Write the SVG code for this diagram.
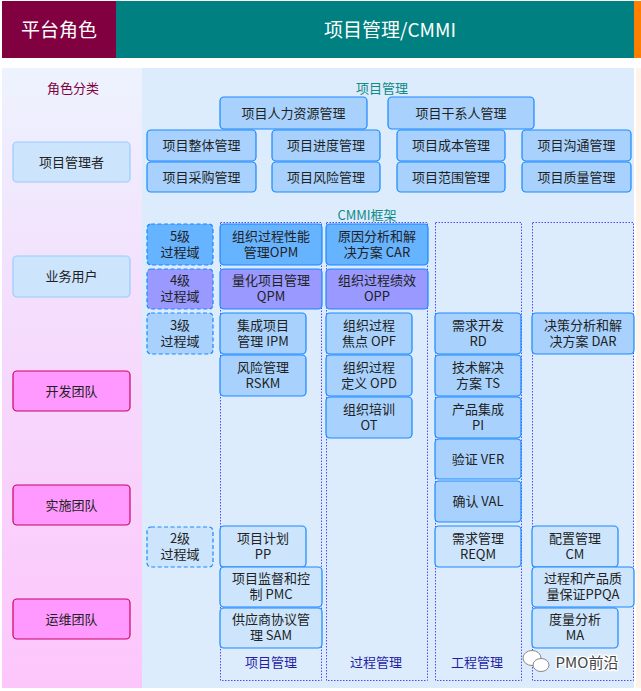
<svg xmlns="http://www.w3.org/2000/svg" width="641" height="691" viewBox="0 0 641 691">
<defs>
<linearGradient id="lg" x1="0" y1="0" x2="0" y2="1">
<stop offset="0" stop-color="#edf3fe"/>
<stop offset="0.5" stop-color="#f6d8fc"/>
<stop offset="1" stop-color="#fdc6fb"/>
</linearGradient>
<style>
text{font-family:"Noto Sans CJK SC","Microsoft YaHei",sans-serif;text-anchor:middle}
.t{font-size:13px;fill:#222}
.hd{font-size:19px;fill:#fff}
.pm{fill:#a8d2fd;stroke:#1a88ff;stroke-width:1.2}
.l5{fill:#66b3ff;stroke:#1a88ff;stroke-width:1.2}
.l4{fill:#9999ff;stroke:#1a88ff;stroke-width:1.2}
.l3{fill:#a8d2fd;stroke:#1a88ff;stroke-width:1.2}
.l2{fill:#cce5fd;stroke:#1a88ff;stroke-width:1.2}
.dash{stroke-dasharray:4 2.5}
.col{fill:none;stroke:#4d4dff;stroke-width:1;stroke-dasharray:1.5 1.5}
.rb{fill:#cce5fd;stroke:#99ccff;stroke-width:1.2}
.rp{fill:#ff99ff;stroke:#cc0066;stroke-width:1.2}
.cl{font-size:13px;fill:#1f1fa6}
.sec{font-size:13px;fill:#0e8a87}
</style>
</defs>
<rect width="641" height="691" fill="#ffffff"/>
<!-- header -->
<g id="header">
<rect x="2" y="1" width="114" height="57" fill="#800040"/>
<rect x="116" y="1" width="518" height="57" fill="#008080"/>
<rect x="634" y="1" width="7" height="57" fill="#ff8000"/>
<text class="hd" x="59" y="37">平台角色</text>
<text class="hd" x="390" y="37">项目管理/CMMI</text>
</g>
<!-- panels -->
<g id="panels">
<rect x="2" y="68" width="140" height="620" fill="url(#lg)"/>
<rect x="142" y="68" width="492" height="620" fill="#dcecfc"/>
<rect x="636" y="68" width="5" height="620" fill="#fff3ea"/>
<text x="73" y="93" style="font-size:13px;fill:#800040">角色分类</text>
<text class="sec" x="382" y="93">项目管理</text>
<text class="sec" x="367" y="220">CMMI框架</text>
</g>
<!-- role nodes -->
<g id="role-pm"><rect class="rb" x="13" y="142" width="117" height="40" rx="4"/><text class="t" x="71.5" y="167">项目管理者</text></g>
<g id="role-biz"><rect class="rb" x="13" y="256" width="117" height="41" rx="4"/><text class="t" x="71.5" y="281">业务用户</text></g>
<g id="role-dev"><rect class="rp" x="13" y="371" width="117" height="40" rx="4"/><text class="t" x="71.5" y="396">开发团队</text></g>
<g id="role-impl"><rect class="rp" x="13" y="485" width="117" height="40" rx="4"/><text class="t" x="71.5" y="510">实施团队</text></g>
<g id="role-ops"><rect class="rp" x="13" y="599" width="117" height="40" rx="4"/><text class="t" x="71.5" y="624">运维团队</text></g>
<!-- project management knowledge areas -->
<g id="pm-hr"><rect class="pm" x="220" y="97" width="147" height="32" rx="4"/><text class="t" x="293.5" y="118">项目人力资源管理</text></g>
<g id="pm-stake"><rect class="pm" x="388" y="97" width="146" height="32" rx="4"/><text class="t" x="461" y="118">项目干系人管理</text></g>
<g id="pm-int"><rect class="pm" x="147" y="130" width="109" height="31" rx="4"/><text class="t" x="201.5" y="150">项目整体管理</text></g>
<g id="pm-sch"><rect class="pm" x="272" y="130" width="108" height="31" rx="4"/><text class="t" x="326" y="150">项目进度管理</text></g>
<g id="pm-cost"><rect class="pm" x="397" y="130" width="108" height="31" rx="4"/><text class="t" x="451" y="150">项目成本管理</text></g>
<g id="pm-comm"><rect class="pm" x="522" y="130" width="109" height="31" rx="4"/><text class="t" x="576.5" y="150">项目沟通管理</text></g>
<g id="pm-proc"><rect class="pm" x="147" y="162" width="109" height="30" rx="4"/><text class="t" x="201.5" y="182">项目采购管理</text></g>
<g id="pm-risk"><rect class="pm" x="272" y="162" width="108" height="30" rx="4"/><text class="t" x="326" y="182">项目风险管理</text></g>
<g id="pm-scope"><rect class="pm" x="397" y="162" width="108" height="30" rx="4"/><text class="t" x="451" y="182">项目范围管理</text></g>
<g id="pm-qual"><rect class="pm" x="522" y="162" width="109" height="30" rx="4"/><text class="t" x="576.5" y="182">项目质量管理</text></g>
<!-- CMMI columns -->
<g id="columns">
<rect class="col" x="220.5" y="222.5" width="101" height="458"/>
<rect class="col" x="326.5" y="222.5" width="101" height="458"/>
<rect class="col" x="435.5" y="222.5" width="86" height="458"/>
<rect class="col" x="532.5" y="222.5" width="101" height="458"/>
<text class="cl" x="271" y="667">项目管理</text>
<text class="cl" x="376" y="667">过程管理</text>
<text class="cl" x="477" y="667">工程管理</text>
</g>
<!-- levels -->
<g id="lv5"><rect class="l5 dash" x="147" y="224" width="66" height="41" rx="4"/><text class="t"><tspan x="180" y="241">5级</tspan><tspan x="180" dy="16">过程域</tspan></text></g>
<g id="lv4"><rect class="l4 dash" x="147" y="269" width="66" height="40" rx="4"/><text class="t"><tspan x="180" y="285">4级</tspan><tspan x="180" dy="16">过程域</tspan></text></g>
<g id="lv3"><rect class="l3 dash" x="147" y="313" width="66" height="41" rx="4"/><text class="t"><tspan x="180" y="330">3级</tspan><tspan x="180" dy="16">过程域</tspan></text></g>
<g id="lv2"><rect class="l2 dash" x="147" y="527" width="66" height="40" rx="4"/><text class="t"><tspan x="180" y="543">2级</tspan><tspan x="180" dy="16">过程域</tspan></text></g>
<!-- column 1 -->
<g id="opm"><rect class="l5" x="220" y="224" width="102" height="41" rx="4"/><text class="t"><tspan x="271" y="241">组织过程性能</tspan><tspan x="271" dy="16">管理OPM</tspan></text></g>
<g id="qpm"><rect class="l4" x="220" y="269" width="102" height="40" rx="4"/><text class="t"><tspan x="271" y="285">量化项目管理</tspan><tspan x="271" dy="16">QPM</tspan></text></g>
<g id="ipm"><rect class="l3" x="220" y="313" width="86" height="41" rx="4"/><text class="t"><tspan x="263" y="330">集成项目</tspan><tspan x="263" dy="16">管理 IPM</tspan></text></g>
<g id="rskm"><rect class="l3" x="220" y="355" width="86" height="41" rx="4"/><text class="t"><tspan x="263" y="372">风险管理</tspan><tspan x="263" dy="16">RSKM</tspan></text></g>
<g id="pp"><rect class="l2" x="220" y="526" width="86" height="41" rx="4"/><text class="t"><tspan x="263" y="543">项目计划</tspan><tspan x="263" dy="16">PP</tspan></text></g>
<g id="pmc"><rect class="l2" x="220" y="567" width="102" height="40" rx="4"/><text class="t"><tspan x="271" y="583">项目监督和控</tspan><tspan x="271" dy="16">制 PMC</tspan></text></g>
<g id="sam"><rect class="l2" x="220" y="608" width="102" height="40" rx="4"/><text class="t"><tspan x="271" y="624">供应商协议管</tspan><tspan x="271" dy="16">理 SAM</tspan></text></g>
<!-- column 2 -->
<g id="car"><rect class="l5" x="326" y="224" width="102" height="41" rx="4"/><text class="t"><tspan x="377" y="241">原因分析和解</tspan><tspan x="377" dy="16">决方案 CAR</tspan></text></g>
<g id="opp"><rect class="l4" x="326" y="269" width="102" height="40" rx="4"/><text class="t"><tspan x="377" y="285">组织过程绩效</tspan><tspan x="377" dy="16">OPP</tspan></text></g>
<g id="opf"><rect class="l3" x="326" y="313" width="86" height="41" rx="4"/><text class="t"><tspan x="369" y="330">组织过程</tspan><tspan x="369" dy="16">焦点 OPF</tspan></text></g>
<g id="opd"><rect class="l3" x="326" y="355" width="86" height="41" rx="4"/><text class="t"><tspan x="369" y="372">组织过程</tspan><tspan x="369" dy="16">定义 OPD</tspan></text></g>
<g id="ot"><rect class="l3" x="326" y="397" width="86" height="41" rx="4"/><text class="t"><tspan x="369" y="414">组织培训</tspan><tspan x="369" dy="16">OT</tspan></text></g>
<!-- column 3 -->
<g id="rd"><rect class="l3" x="435" y="313" width="86" height="41" rx="4"/><text class="t"><tspan x="478" y="330">需求开发</tspan><tspan x="478" dy="16">RD</tspan></text></g>
<g id="ts"><rect class="l3" x="435" y="355" width="86" height="41" rx="4"/><text class="t"><tspan x="478" y="372">技术解决</tspan><tspan x="478" dy="16">方案 TS</tspan></text></g>
<g id="pi"><rect class="l3" x="435" y="397" width="86" height="41" rx="4"/><text class="t"><tspan x="478" y="414">产品集成</tspan><tspan x="478" dy="16">PI</tspan></text></g>
<g id="ver"><rect class="l3" x="435" y="439" width="86" height="40" rx="4"/><text class="t" x="478" y="464">验证 VER</text></g>
<g id="val"><rect class="l3" x="435" y="481" width="86" height="41" rx="4"/><text class="t" x="478" y="506">确认 VAL</text></g>
<g id="reqm"><rect class="l2" x="435" y="526" width="86" height="41" rx="4"/><text class="t"><tspan x="478" y="543">需求管理</tspan><tspan x="478" dy="16">REQM</tspan></text></g>
<!-- column 4 -->
<g id="dar"><rect class="l3" x="532" y="313" width="102" height="41" rx="4"/><text class="t"><tspan x="583" y="330">决策分析和解</tspan><tspan x="583" dy="16">决方案 DAR</tspan></text></g>
<g id="cm"><rect class="l2" x="532" y="526" width="86" height="41" rx="4"/><text class="t"><tspan x="575" y="543">配置管理</tspan><tspan x="575" dy="16">CM</tspan></text></g>
<g id="ppqa"><rect class="l2" x="532" y="567" width="102" height="40" rx="4"/><text class="t"><tspan x="583" y="583">过程和产品质</tspan><tspan x="583" dy="16">量保证PPQA</tspan></text></g>
<g id="ma"><rect class="l2" x="532" y="608" width="86" height="40" rx="4"/><text class="t"><tspan x="575" y="624">度量分析</tspan><tspan x="575" dy="16">MA</tspan></text></g>
<!-- watermark -->
<g id="watermark">
<ellipse cx="532" cy="658" rx="9" ry="7.5" fill="#fff" stroke="#888" stroke-width="1"/>
<ellipse cx="541" cy="665" rx="8" ry="6.5" fill="#fff" stroke="#888" stroke-width="1"/>
<text x="587" y="668" style="font-size:15px;fill:#444;stroke:#fff;stroke-width:2.5;paint-order:stroke">PMO前沿</text>
</g>
</svg>
